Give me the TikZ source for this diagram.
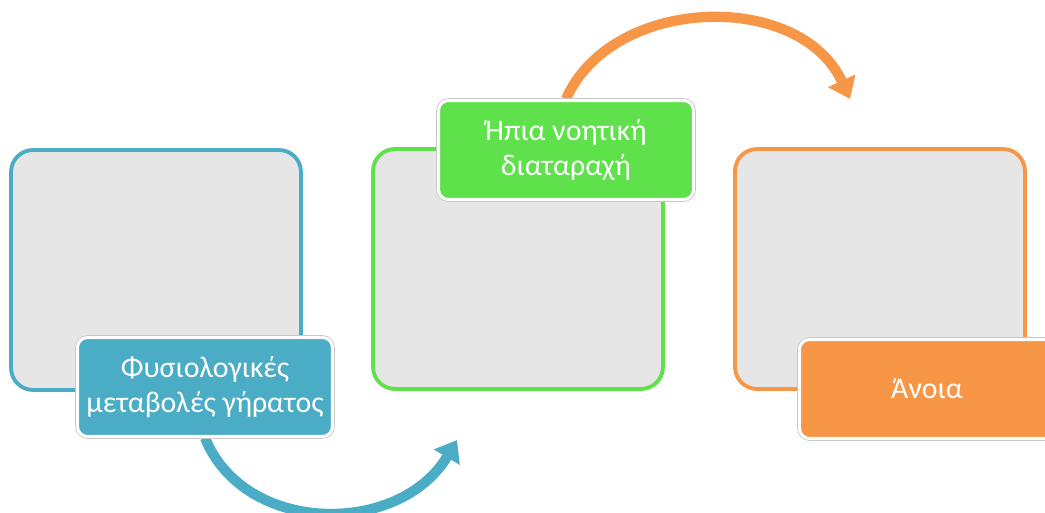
\documentclass[tikz,border=0pt]{standalone}
\usepackage{fontspec}
\setmainfont{Carlito}
\usetikzlibrary{arrows.meta,backgrounds}
\definecolor{stepblue}{HTML}{4BACC6}
\definecolor{stepgreen}{HTML}{5FE14B}
\definecolor{steporange}{HTML}{F79646}
\definecolor{panelgray}{HTML}{E6E6E6}
\begin{document}
\begin{tikzpicture}[x=0.02cm, y=-0.02cm,
    panel/.style={draw=#1, fill=panelgray, line width=2.2pt, rounded corners=0.44cm,
        minimum width=5.8cm, minimum height=4.8cm},
    tag/.style={fill=#1, draw=white, line width=1.7pt, rounded corners=0.2cm,
        minimum width=5.1cm, minimum height=1.98cm, text=white, align=center,
        font=\fontsize{17}{19.5}\selectfont,
        preaction={draw=black!22, line width=2.6pt}},
    flow/.style={draw=#1, line width=5.8pt, -{Triangle[length=0.4cm, width=0.58cm]}}]
    \useasboundingbox (0, 0) rectangle (1045, 513);
    \node[panel=stepblue] (p1) at (156, 270) {};
    \node[panel=stepgreen] (p2) at (518, 269) {};
    \node[panel=steporange] (p3) at (880, 269) {};
    \node[tag=stepblue] (tag1) at (205, 387) {Φυσιολογικές\\μεταβολές γήρατος};
    \node[tag=stepgreen] (tag2) at (566, 150) {Ήπια νοητική\\διαταραχή};
    \node[tag=steporange] (tag3) at (927, 389) {Άνοια};
    \coordinate (t1) at (457, 440);
    \coordinate (t2) at (850, 99);
    \begin{pgfonlayer}{background}
        \draw[flow=stepblue] (tag1.south) .. controls (245, 536) and (400, 536) .. (t1);
        \draw[flow=steporange] (tag2.north) .. controls (612, -5) and (800, -10) .. (t2);
    \end{pgfonlayer}
\end{tikzpicture}
\end{document}
